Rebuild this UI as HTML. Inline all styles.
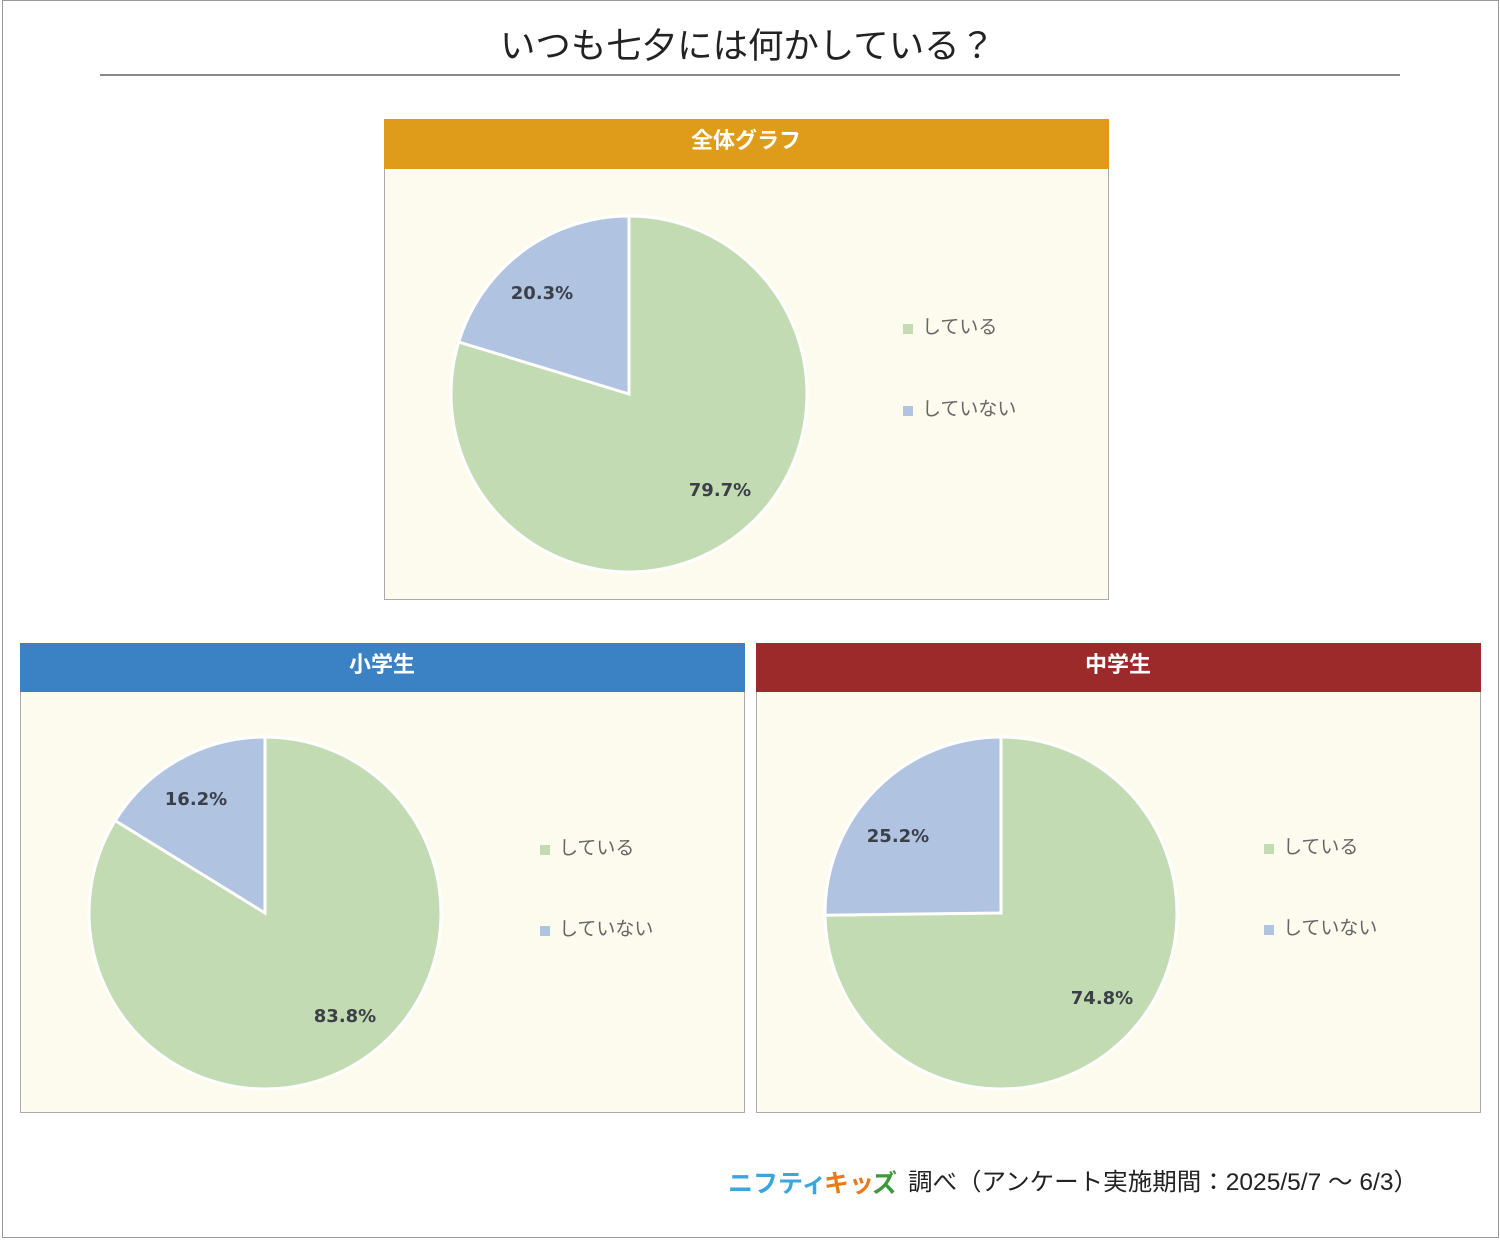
<!DOCTYPE html>
<html><head><meta charset="utf-8"><style>
body{margin:0;width:1500px;height:1240px;background:#fff;font-family:"Liberation Sans","Noto Sans CJK JP",sans-serif;}
</style></head><body>
<svg width="1500" height="1240" xmlns="http://www.w3.org/2000/svg" style="position:absolute;left:0;top:0;font-family:'Liberation Sans','Noto Sans CJK JP',sans-serif">
<rect x="2.5" y="0.5" width="1496" height="1237" fill="#fff" stroke="#999"/>
<text x="500" y="58" font-size="35" textLength="495" lengthAdjust="spacingAndGlyphs" fill="#222">いつも七夕には何かしている？</text>
<line x1="100" y1="75" x2="1400" y2="75" stroke="#888" stroke-width="2"/>

<g font-family="'DejaVu Sans',sans-serif">
<!-- top -->
<rect x="384.5" y="119.5" width="724" height="480" fill="#fdfbee" stroke="#aaa"/>
<rect x="384" y="119" width="725" height="50" fill="#df9c1a"/>
<text x="746" y="148" font-size="22" font-weight="bold" fill="#fff" text-anchor="middle" font-family="'Liberation Sans','Noto Sans CJK JP',sans-serif">全体グラフ</text>
<circle cx="629" cy="394" r="178" fill="#c3dbb2" stroke="#fff" stroke-width="3"/>
<path d="M629,394 L458.7,342 A178,178 0 0 1 629,216 Z" fill="#b0c3e0" stroke="#fff" stroke-width="3"/>
<text x="542" y="299" font-size="18" font-weight="bold" fill="#3a3f48" text-anchor="middle">20.3%</text>
<text x="720" y="496" font-size="18" font-weight="bold" fill="#3a3f48" text-anchor="middle">79.7%</text>
</g>
<rect x="903" y="324" width="10" height="10" fill="#c3dbb2"/>
<text x="922" y="333" font-size="19" fill="#666">している</text>
<rect x="903" y="406" width="10" height="10" fill="#b0c3e0"/>
<text x="922" y="415" font-size="19" fill="#666">していない</text>

<!-- left -->
<rect x="20.5" y="643.5" width="724" height="469" fill="#fdfbee" stroke="#aaa"/>
<rect x="20" y="643" width="725" height="49" fill="#3a82c4"/>
<text x="382" y="672" font-size="22" font-weight="bold" fill="#fff" text-anchor="middle">小学生</text>
<circle cx="265" cy="913" r="176" fill="#c3dbb2" stroke="#fff" stroke-width="3"/>
<path d="M265,913 L115.2,820.6 A176,176 0 0 1 265,737 Z" fill="#b0c3e0" stroke="#fff" stroke-width="3"/>
<g font-family="'DejaVu Sans',sans-serif">
<text x="196" y="805" font-size="18" font-weight="bold" fill="#3a3f48" text-anchor="middle">16.2%</text>
<text x="345" y="1022" font-size="18" font-weight="bold" fill="#3a3f48" text-anchor="middle">83.8%</text>
</g>
<rect x="540" y="845" width="10" height="10" fill="#c3dbb2"/>
<text x="559" y="854" font-size="19" fill="#666">している</text>
<rect x="540" y="926" width="10" height="10" fill="#b0c3e0"/>
<text x="559" y="935" font-size="19" fill="#666">していない</text>

<!-- right -->
<rect x="756.5" y="643.5" width="724" height="469" fill="#fdfbee" stroke="#aaa"/>
<rect x="756" y="643" width="725" height="49" fill="#9c2a2a"/>
<text x="1118" y="672" font-size="22" font-weight="bold" fill="#fff" text-anchor="middle">中学生</text>
<circle cx="1001" cy="913" r="176" fill="#c3dbb2" stroke="#fff" stroke-width="3"/>
<path d="M1001,913 L825,915.2 A176,176 0 0 1 1001,737 Z" fill="#b0c3e0" stroke="#fff" stroke-width="3"/>
<g font-family="'DejaVu Sans',sans-serif">
<text x="898" y="842" font-size="18" font-weight="bold" fill="#3a3f48" text-anchor="middle">25.2%</text>
<text x="1102" y="1004" font-size="18" font-weight="bold" fill="#3a3f48" text-anchor="middle">74.8%</text>
</g>
<rect x="1264" y="844" width="10" height="10" fill="#c3dbb2"/>
<text x="1283" y="853" font-size="19" fill="#666">している</text>
<rect x="1264" y="925" width="10" height="10" fill="#b0c3e0"/>
<text x="1283" y="934" font-size="19" fill="#666">していない</text>

<!-- footer -->
<text x="728" y="1192" font-size="25" font-weight="bold" fill="#3aa6dc">ニフティ</text>
<text x="824" y="1192" font-size="25" font-weight="bold" fill="#e87a1e">キッ</text>
<text x="872" y="1192" font-size="25" font-weight="bold" fill="#3c9a3a">ズ</text>
<text x="908" y="1190" font-size="24" textLength="510" lengthAdjust="spacingAndGlyphs" fill="#222">調べ（アンケート実施期間：2025/5/7 ～ 6/3）</text>
</svg>
</body></html>
